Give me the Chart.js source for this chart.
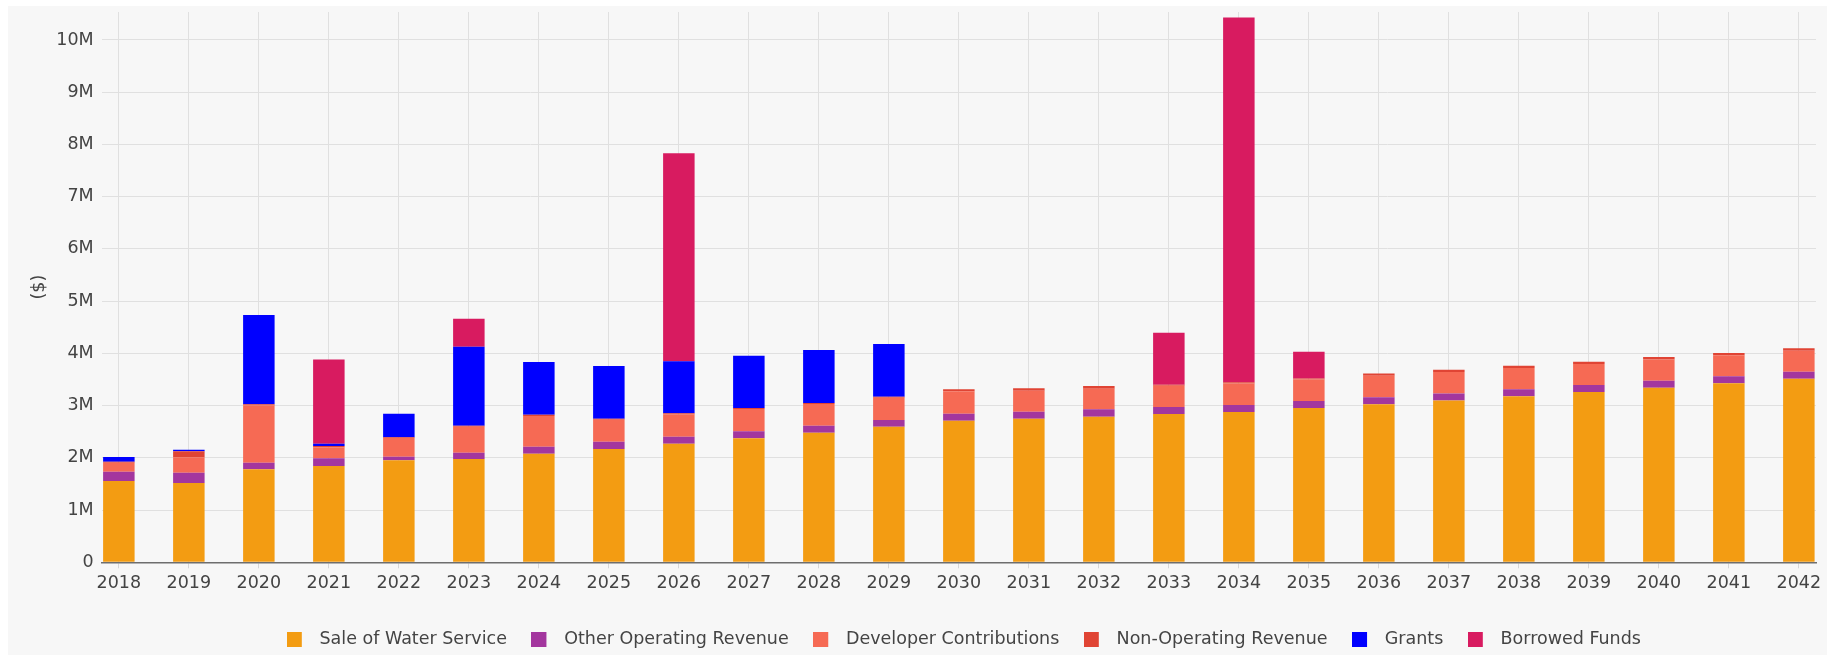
<!DOCTYPE html>
<html>
<head>
<meta charset="utf-8">
<title>Revenue by Source</title>
<script src="https://cdn.jsdelivr.net/npm/chart.js@4.4.0/dist/chart.umd.min.js"></script>
<style>
  html, body { margin: 0; padding: 0; background: #ffffff; }
  #panel { position: absolute; left: 8px; top: 6px; width: 1819px; height: 649px; background: #f7f7f7; }
  #revChart { display: block; }
</style>
</head>
<body>
<div id="panel"><canvas id="revChart" width="1819" height="649"></canvas></div>
<script>
// values in $M
const years = ["2018","2019","2020","2021","2022","2023","2024","2025","2026","2027","2028","2029","2030",
               "2031","2032","2033","2034","2035","2036","2037","2038","2039","2040","2041","2042"];

const saleOfWater = [1.556, 1.518, 1.780, 1.843, 1.952, 1.977, 2.079, 2.168, 2.270, 2.373, 2.480, 2.595, 2.710,
                     2.748, 2.787, 2.838, 2.877, 2.953, 3.024, 3.100, 3.177, 3.259, 3.342, 3.426, 3.514];
const otherOperating = [0.178, 0.197, 0.126, 0.147, 0.069, 0.121, 0.134, 0.140, 0.134, 0.134, 0.134, 0.128, 0.134,
                        0.134, 0.141, 0.134, 0.134, 0.134, 0.134, 0.134, 0.134, 0.134, 0.134, 0.134, 0.134];
const developerContrib = [0.172, 0.294, 1.098, 0.211, 0.361, 0.496, 0.587, 0.421, 0.428, 0.426, 0.415, 0.426, 0.429,
                          0.402, 0.395, 0.407, 0.414, 0.414, 0.414, 0.408, 0.408, 0.402, 0.409, 0.402, 0.402];
const nonOperating = [0.020, 0.115, 0.020, 0.025, 0.010, 0.020, 0.025, 0.020, 0.020, 0.020, 0.020, 0.020, 0.038,
                      0.046, 0.051, 0.020, 0.020, 0.020, 0.045, 0.044, 0.044, 0.045, 0.044, 0.044, 0.046];
const grants = [0.089, 0.031, 1.709, 0.044, 0.452, 1.512, 1.008, 1.008, 0.995, 1.001, 1.014, 1.009, 0,
                0, 0, 0, 0, 0, 0, 0, 0, 0, 0, 0, 0];
const borrowedFunds = [0, 0, 0, 1.615, 0, 0.536, 0, 0, 3.986, 0, 0, 0, 0,
                       0, 0, 0.995, 6.985, 0.510, 0, 0, 0, 0, 0, 0, 0];

const yTicks = [0, 1, 2, 3, 4, 5, 6, 7, 8, 9, 10];

const series = [
  { label: "Sale of Water Service", values: saleOfWater, color: "#f39c12" },
  { label: "Other Operating Revenue", values: otherOperating, color: "#a3369e" },
  { label: "Developer Contributions", values: developerContrib, color: "#f66a54" },
  { label: "Non-Operating Revenue", values: nonOperating, color: "#e04434" },
  { label: "Grants", values: grants, color: "#0000ff" },
  { label: "Borrowed Funds", values: borrowedFunds, color: "#d81b60" }
];

// little square swatch with room on the right, used as legend point style
function makeSwatch(color) {
  const c = document.createElement("canvas");
  c.width = 24; c.height = 15;
  const g = c.getContext("2d");
  g.fillStyle = color;
  g.fillRect(0, 0, 15, 15);
  return c;
}
const swatches = series.map(s => makeSwatch(s.color));

// drop the label overhang padding so the plot area stays where we put it
function noPad(s) {
  s.paddingLeft = 0; s.paddingRight = 0; s.paddingTop = 0; s.paddingBottom = 0;
}

// legend sits a touch right of the plot centre in the original
const legendNudge = {
  id: "legendNudge",
  afterLayout(chart) {
    chart.legend.left += 5;
    chart.legend.right += 5;
  }
};

Chart.defaults.font.family = "'DejaVu Sans', Verdana, sans-serif";
Chart.defaults.color = "#444";

const ctx = document.getElementById("revChart").getContext("2d");
new Chart(ctx, {
  type: "bar",
  data: {
    datasets: series.map(s => ({
      label: s.label,
      data: s.values.map((v, i) => ({ x: i, y: v })),
      backgroundColor: s.color,
      borderWidth: 0,
      barPercentage: 0.45,
      categoryPercentage: 1
    }))
  },
  options: {
    responsive: false,
    animation: false,
    layout: { padding: { top: 6, right: 11, bottom: -3, left: 0 } },
    scales: {
      x: {
        type: "linear",
        stacked: true,
        offset: false,
        min: -0.245,
        max: 24.245,
        afterBuildTicks: s => { s.ticks = years.map((y, i) => ({ value: i })); },
        afterFit: s => { s.height = 43.7; noPad(s); },
        ticks: {
          autoSkip: false,
          maxRotation: 0,
          padding: 5,
          font: { size: 17.5 },
          color: "#444",
          callback: v => years[v]
        },
        grid: { offset: false, color: "#e0e0e0", lineWidth: 1, drawTicks: true, tickLength: 6, tickColor: "#d6d6d6" },
        border: { display: true, color: "#6e6e6e", width: 1.5 }
      },
      y: {
        stacked: true,
        min: 0,
        max: 10.536,
        afterBuildTicks: s => { s.ticks = yTicks.map(v => ({ value: v })); },
        afterFit: s => { s.width = 93.7; noPad(s); },
        ticks: {
          padding: 8,
          font: { size: 17.5 },
          color: "#444",
          callback: v => v === 0 ? "0" : v + "M"
        },
        grid: { color: "#e0e0e0", lineWidth: 1, drawTicks: false },
        border: { display: false },
        title: {
          display: true,
          text: "($)",
          font: { size: 17.5 },
          color: "#444",
          padding: { top: 20.5, bottom: 0 }
        }
      }
    },
    plugins: {
      tooltip: { enabled: false },
      legend: {
        position: "bottom",
        fullSize: false,
        labels: {
          usePointStyle: true,
          pointStyleWidth: 24,
          padding: 24.5,
          font: { size: 17.5 },
          color: "#444",
          generateLabels: chart => {
            const items = Chart.defaults.plugins.legend.labels.generateLabels(chart);
            items.forEach(it => { it.pointStyle = swatches[it.datasetIndex]; });
            return items;
          }
        }
      }
    }
  },
  plugins: [legendNudge]
});
</script>
</body>
</html>
